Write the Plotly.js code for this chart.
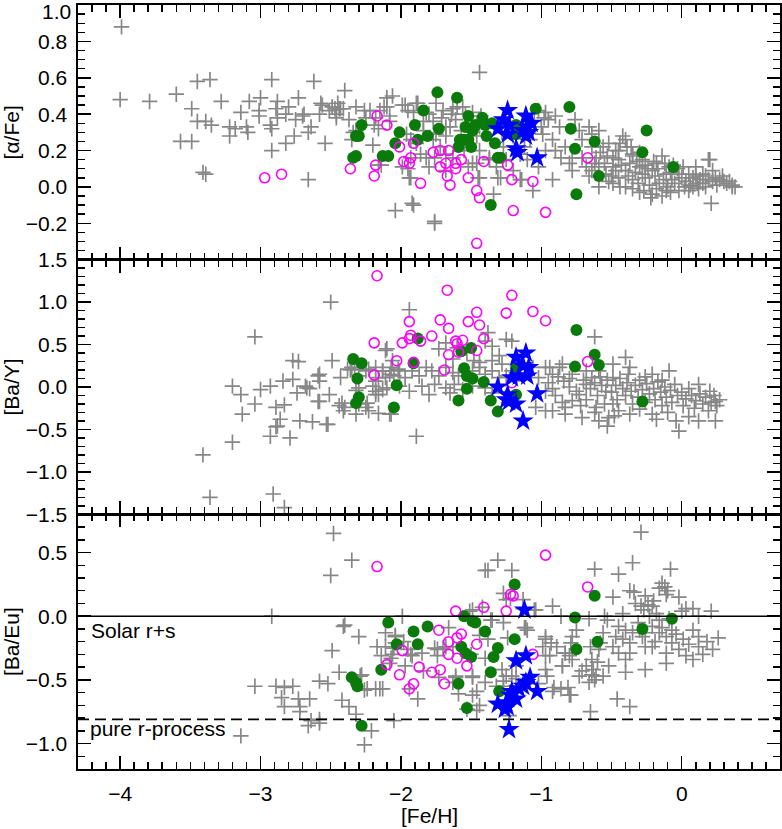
<!DOCTYPE html>
<html>
<head>
<meta charset="utf-8">
<script src="https://cdn.plot.ly/plotly-3.0.1.min.js"></script>
<style>html,body{margin:0;padding:0;background:#fff;}#chart{width:782px;height:829px;}</style>
</head>
<body>
<div id="chart"></div>
<script>
// ---------- Panel 1: [alpha/Fe] vs [Fe/H] ----------
const alphaGray = [
[-3.99,0.88],[-4.00,0.48],[-3.79,0.47],[-3.60,0.51],[-3.45,0.58],[-3.36,0.59],[-3.49,0.43],[-3.45,0.36],[-3.39,0.36],[-3.35,0.34],[-3.57,0.25],[-3.49,0.25],[-3.41,0.08],[-3.39,0.07],[-3.28,0.47],[-3.22,0.33],[-3.18,0.32],[-3.22,0.28],[-3.14,0.41],[-3.08,0.47],[-3.10,0.33],[-3.09,0.30],[-3.00,0.49],[-3.01,0.42],[-3.01,0.39],[-2.92,0.59],[-2.89,0.43],[-2.88,0.47],[-2.93,0.34],[-2.92,0.32],[-2.92,0.20],[-2.88,0.38],[-2.82,0.40],[-2.80,0.44],[-2.82,0.24],[-2.76,0.28],[-2.75,0.37],[-2.73,0.49],[-2.70,0.39],[-2.69,0.40],[-2.66,0.30],[-2.64,0.33],[-2.62,0.58],[-2.66,0.04],[-2.58,0.40],[-2.57,0.46],[-2.54,0.24],[-2.47,0.43],[-2.46,0.40],[-2.45,0.46],[-2.43,0.43],[-2.41,0.43],[-2.40,0.53],[-2.37,0.37],[-2.32,0.44],[-2.32,0.31],[-2.26,0.42],[-2.25,0.38],[-2.20,0.23],[-2.19,0.34],[-2.16,0.32],[-2.15,0.42],[-2.10,0.49],[-2.04,-0.13],[-2.16,0.12],
[-2.56,0.45],[-2.51,0.42],[-2.49,0.44],[-2.44,0.43],[-2.46,0.38],[-2.34,0.30],[-2.35,0.26],[-2.22,0.42],[-2.18,0.38],[-2.10,0.44],[-2.08,0.36],[-2.14,0.12],[-2.06,0.50],[-1.44,0.63],
[-1.99,0.45],[-1.95,0.42],[-1.91,0.41],[-1.88,0.46],[-1.84,0.36],[-1.96,0.29],[-1.93,0.26],[-1.89,0.24],[-1.95,0.10],[-1.93,0.05],[-1.92,-0.09],[-1.82,0.16],[-1.80,0.40],[-1.77,0.36],[-1.76,-0.20],[-1.75,0.46],[-1.70,0.42],[-1.71,0.38],[-1.68,0.33],[-1.64,0.40],[-1.63,0.43],[-1.61,0.37],[-1.77,0.26],[-1.72,0.22],[-1.68,0.28],[-1.56,0.44],[-1.54,0.40],[-1.49,0.41],[-1.45,0.34],[-1.46,0.28],[-1.43,0.39],[-1.63,0.16],[-1.49,0.13],[-1.45,0.05],[-1.34,-0.04],[-1.31,0.05],[-1.37,0.16],[-1.32,0.11],[-1.27,0.22],[-1.25,0.15],[-1.20,0.09],[-1.15,0.18],[-1.10,0.15],[-1.14,0.04],
[-2.12,0.44],[-2.08,0.39],[-1.97,0.45],[-1.89,0.46],[-1.82,0.41],[-1.60,0.44],[-1.84,0.31],[-1.75,0.29],[-1.65,0.33],[-1.57,0.31],[-1.44,0.33],[-1.93,0.16],[-1.86,0.18],[-1.76,0.16],[-1.68,0.18],[-1.55,0.20],[-1.44,0.20],[-1.46,0.13],[-1.37,0.15],[-1.99,0.11],[-1.94,0.05],[-1.80,0.11],[-1.68,0.09],[-1.52,0.11],[-1.44,0.05],[-1.91,-0.10],[-1.76,-0.19],[-1.29,0.05],[-1.15,0.04],[-1.06,-0.02],
[-1.02,0.42],[-0.98,0.38],[-1.05,0.36],[-1.00,0.33],[-1.28,0.30],[-1.20,0.28],[-1.15,0.30],[-1.08,0.26],[-1.12,0.22],
[-0.97,0.41],[-0.95,0.37],[-0.90,0.39],[-0.87,0.33],[-0.99,0.29],[-0.92,0.26],[-0.97,0.20],[-0.90,0.20],[-0.83,0.22],[-0.86,0.16],[-0.78,0.16],[-1.02,0.11],[-0.92,0.04],[-0.80,0.13],[-0.78,0.09],
[-0.76,0.37],[-0.73,0.31],[-0.71,0.26],[-0.66,0.33],[-0.64,0.29],[-0.59,0.31],[-0.64,0.22],[-0.71,0.16],[-0.68,0.11],
[-0.61,0.16],[-0.56,0.22],[-0.52,0.24],[-0.49,0.16],[-0.45,0.20],[-0.40,0.26],[-0.42,0.28],[-0.39,0.22],[-0.35,0.18],
[-0.64,0.09],[-0.59,0.11],[-0.54,0.07],[-0.49,0.11],[-0.45,0.05],[-0.40,0.09],[-0.35,0.04],[-0.30,0.11],[-0.26,0.05],[-0.21,0.09],[-0.16,0.02],[-0.11,0.07],[-0.07,0.04],[-0.02,0.07],[0.03,0.03],[0.08,0.05],[0.13,0.04],[0.17,0.06],[0.22,0.03],[0.27,0.04],[0.32,0.02],[0.36,0.01],
[-0.49,0.02],[-0.40,0.00],[-0.30,-0.03],[-0.21,-0.04],[-0.11,-0.02],[-0.02,-0.02],[0.08,0.00],[0.17,0.00],
[-0.45,0.15],[-0.35,0.17],[-0.28,0.15],[-0.18,0.13],[-0.14,0.17],[-0.09,0.11],[0.01,0.11],[0.10,0.11],[0.19,0.15],[0.22,0.09],[0.29,0.06],
[-0.59,0.00],[0.21,-0.09],[-0.22,-0.06],[-0.14,-0.05],[0.20,0.15],[0.36,0.00],
[-0.55,0.13],[-0.50,0.06],[-0.47,0.09],[-0.43,0.12],[-0.38,0.06],[-0.33,0.08],[-0.31,0.02],[-0.28,0.07],[-0.24,0.10],[-0.23,0.01],[-0.19,0.06],[-0.17,0.10],[-0.13,0.04],[-0.10,0.00],[-0.08,0.08],[-0.05,0.02],[-0.03,0.10],[0.00,0.05],[0.02,0.00],[0.05,0.07],[0.06,0.01],[0.10,0.06],[0.11,0.02],[0.15,0.07],[0.15,0.02],[0.19,0.04],[0.24,0.05],[0.25,0.01],[0.30,0.03],[0.34,0.03],[0.38,0.00],[-0.37,0.13],[-0.32,0.14],[-0.26,0.12],[-0.20,0.14],[-0.12,0.13],[-0.06,0.12],[-0.58,0.19],[-0.53,0.17],[-0.47,0.20],[-0.44,0.24],[-0.36,0.22],[-0.30,0.19],[-0.62,0.13],[-0.66,0.06],[-0.52,0.03],[-0.44,0.00],[-0.35,-0.01],[-0.27,-0.02],[-0.18,-0.01],[-0.08,-0.03],[0.05,-0.02],[0.12,-0.01]
];
const alphaGreen = [[-2.28,0.34],[-2.32,0.28],[-2.30,0.28],[-2.34,0.16],[-2.32,0.17],[-2.13,0.17],[-2.09,0.17],[-2.04,0.24],[-2.01,0.30],[-1.90,0.34],[-1.88,0.26],[-1.84,0.42],[-1.81,0.28],[-1.74,0.52],[-1.73,0.32],[-1.60,0.49],[-1.58,0.26],[-1.59,0.22],[-1.55,0.26],[-1.52,0.26],[-1.50,0.22],[-1.54,0.33],[-1.52,0.39],[-1.49,0.31],[-1.47,0.34],[-1.42,0.38],[-1.40,0.34],[-1.35,0.35],[-1.39,0.28],[-1.33,0.24],[-1.31,0.16],[-1.29,0.16],[-1.36,-0.10],[-1.18,0.34],[-1.18,0.29],[-1.04,0.43],[-0.80,0.44],[-0.79,0.32],[-0.76,0.21],[-0.75,-0.04],[-0.62,0.25],[-0.59,0.06],[-0.25,0.31],[-0.28,0.19],[-0.06,0.11]];
const alphaMagenta = [[-2.97,0.05],[-2.85,0.07],[-2.36,0.10],[-2.19,0.06],[-2.18,0.12],[-2.17,0.39],[-2.10,0.34],[-2.01,0.22],[-1.91,0.24],[-1.98,0.14],[-1.94,0.13],[-1.93,0.16],[-1.86,0.02],[-1.77,0.19],[-1.72,0.20],[-1.66,0.20],[-1.72,0.11],[-1.68,0.13],[-1.67,0.06],[-1.65,0.01],[-1.61,0.13],[-1.61,0.10],[-1.57,0.15],[-1.52,0.05],[-1.46,-0.02],[-1.44,-0.06],[-1.41,0.14],[-1.24,0.12],[-1.21,0.04],[-1.20,-0.13],[-1.46,-0.31],[-1.06,0.03],[-0.97,-0.14],[-0.67,0.16]];
const alphaBlue = [[-1.24,0.42],[-1.31,0.32],[-1.27,0.37],[-1.23,0.34],[-1.24,0.29],[-1.18,0.21],[-1.17,0.19],[-1.11,0.39],[-1.10,0.33],[-1.09,0.30],[-1.13,0.31],[-1.07,0.35],[-1.11,0.28],[-1.03,0.16]];

// ---------- Panel 2: [Ba/Y] vs [Fe/H] ----------
const bayGray = [
[-2.50,1.00],[-3.04,0.59],[-3.41,-0.80],[-3.36,-1.30],[-2.91,-1.26],[-2.83,-1.42],[-3.20,-0.65],[-3.20,0.01],[-3.14,-0.09],[-3.13,-0.32],[-3.04,-0.20],[-3.00,-0.03],[-2.93,0.01],[-2.93,-0.58],[-2.89,-0.47],[-2.86,-0.38],[-2.89,-0.24],[-2.83,-0.21],[-2.84,0.07],[-2.77,0.09],[-2.79,-0.60],[-2.73,0.30],[-2.74,-0.07],[-2.72,-0.40],[-2.67,-0.01],[-2.65,-0.02],[-2.63,-0.41],[-2.58,0.15],[-2.58,0.07],[-2.58,-0.17],[-2.51,-0.09],[-2.52,-0.44],[-2.49,0.31],[-2.43,0.11],[-2.44,-0.22],[-2.40,-0.24],[-2.42,-0.19],[-2.38,0.21],[-2.36,0.20],[-2.33,0.21],[-2.32,-0.32],[-2.32,-0.04],[-2.30,-0.20],[-2.25,-0.24],[-2.24,-0.19],[-2.23,0.21],[-2.18,0.07],[-2.18,-0.05],[-2.16,-0.09],[-2.13,0.19],[-2.11,0.11],[-2.10,-0.01],[-2.07,0.23],[-2.10,0.45],[-2.16,-0.31],[-2.05,0.13],[-2.02,0.21],
[-1.94,0.91],[-2.11,0.43],[-2.06,0.31],[-1.73,0.45],[-1.68,0.52],[-1.60,0.46],[-1.63,0.33],[-1.53,0.41],[-1.38,0.64],[-1.40,0.54],[-1.35,0.48],[-1.25,0.56],[-1.21,0.54],[-1.30,0.37],[-1.28,0.27],[-1.35,0.31],[-1.44,0.29],[-1.48,0.31],
[-2.35,0.23],[-2.30,0.13],[-2.25,0.19],[-2.18,0.23],[-2.13,0.19],[-2.16,0.11],[-2.08,0.15],[-2.01,0.19],[-1.97,0.11],[-1.92,0.19],[-1.87,0.13],[-1.82,0.23],[-1.78,0.19],[-1.73,0.13],[-1.68,0.23],[-1.63,0.17],[-1.59,0.13],[-1.49,0.19],[-1.44,0.23],[-1.40,0.15],[-1.35,0.19],[-1.30,0.11],[-1.25,0.13],[-1.21,0.19],[-1.16,0.15],
[-2.30,-0.01],[-2.20,0.01],[-2.18,-0.09],[-2.13,-0.03],[-2.01,0.01],[-1.94,-0.05],[-1.85,0.01],[-1.80,-0.09],[-1.76,0.03],[-1.68,-0.01],[-1.62,0.03],[-1.56,-0.03],[-1.49,0.01],[-1.40,-0.01],[-1.35,-0.07],[-1.65,-0.07],
[-2.41,-0.28],[-2.23,-0.28],[-2.08,-0.32],[-2.59,-0.17],[-2.53,-0.44],[-2.88,-0.46],[-2.77,0.31],[-2.59,0.13],[-2.68,0.01],[-1.89,-0.58],[-2.07,-0.32],
[-1.06,0.23],[-1.02,0.11],[-0.97,0.23],[-0.92,0.15],[-0.87,0.23],[-0.84,0.07],[-0.97,-0.05],[-1.04,-0.24],[-0.92,-0.28],[-0.83,-0.24],[-0.78,-0.16],[-0.73,-0.09],[-0.68,0.03],[-0.64,0.11],[-0.59,0.19],[-0.54,-0.05],[-0.49,0.11],[-0.61,-0.24],[-0.52,-0.36],[-0.49,-0.20],
[-0.62,0.59],[-0.40,0.35],
[-0.94,0.23],[-0.85,0.27],[-0.68,0.19],[-0.49,0.27],[-0.37,0.23],[-0.21,0.15],[-0.09,0.19],[0.12,0.03],[0.20,-0.05],[0.24,-0.17],
[-0.97,-0.28],[-0.83,-0.32],[-0.71,-0.36],[-0.59,-0.40],[-0.53,-0.46],[-0.37,-0.32],[-0.21,-0.32],[-0.04,-0.40],[-0.02,-0.52],[0.12,-0.40],[0.24,-0.40],
[-0.95,0.05],[-0.90,-0.10],[-0.88,0.12],[-0.80,0.00],[-0.78,0.15],[-0.75,-0.05],[-0.70,0.08],[-0.68,-0.15],[-0.65,-0.02],[-0.62,0.05],[-0.60,-0.10],[-0.57,0.02],[-0.55,-0.20],[-0.53,0.08],[-0.50,-0.06],[-0.47,0.02],[-0.46,-0.15],[-0.44,0.10],[-0.42,-0.02],[-0.40,-0.10],[-0.39,0.05],[-0.36,-0.05],[-0.35,-0.20],[-0.33,0.02],[-0.31,-0.12],[-0.30,0.08],[-0.28,-0.03],[-0.26,-0.18],[-0.25,0.04],[-0.23,-0.08],[-0.20,-0.02],[-0.19,-0.15],[-0.17,0.06],[-0.15,-0.06],[-0.14,-0.22],[-0.12,0.00],[-0.11,-0.12],[-0.08,-0.04],[-0.07,-0.18],[-0.05,0.03],[-0.03,-0.10],[0.00,-0.06],[0.01,-0.22],[0.03,-0.14],[0.05,-0.02],[0.07,-0.10],[0.09,-0.25],[0.10,-0.16],[0.13,-0.08],[0.15,-0.20],[0.17,-0.12],[0.19,-0.28],[0.21,-0.18],[0.23,-0.10],[0.25,-0.22],[0.27,-0.15],[-0.62,-0.30],[-0.45,-0.28],[-0.30,-0.26],[-0.10,-0.30],[0.05,-0.35],[-0.72,-0.22],[-0.85,-0.18],[-0.92,-0.02],[-0.38,0.15],[-0.26,0.12],[-0.14,0.08],[-0.58,0.12],[-0.80,0.10],[-0.48,-0.34],[-0.18,-0.38]
];
const bayGreen = [[-2.34,0.33],[-2.28,0.28],[-2.31,0.10],[-2.30,-0.12],[-2.32,-0.19],[-2.05,-0.24],[-2.03,0.02],[-1.91,0.28],[-1.88,0.57],[-1.57,0.42],[-1.50,0.46],[-1.55,0.22],[-1.53,0.13],[-1.49,0.10],[-1.53,-0.02],[-1.59,-0.16],[-1.41,0.06],[-1.36,-0.16],[-1.31,-0.29],[-1.18,0.22],[-1.18,-0.09],[-0.75,0.67],[-0.76,0.24],[-0.62,0.38],[-0.59,0.26],[-0.28,-0.17]];
const bayMagenta = [[-2.17,1.31],[-2.19,0.52],[-2.19,0.14],[-2.03,0.31],[-1.99,0.52],[-1.94,0.57],[-1.93,0.61],[-1.86,0.54],[-1.94,0.77],[-1.91,0.29],[-1.78,0.60],[-1.72,0.79],[-1.66,0.69],[-1.67,1.14],[-1.61,0.54],[-1.60,0.51],[-1.56,0.55],[-1.66,0.38],[-1.59,0.41],[-1.69,0.20],[-1.52,0.77],[-1.46,0.88],[-1.44,0.73],[-1.41,0.57],[-1.46,0.43],[-1.21,1.08],[-1.25,0.87],[-1.21,0.05],[-1.06,0.89],[-0.97,0.78],[-0.67,0.30]];
const bayBlue = [[-1.18,0.35],[-1.11,0.40],[-1.13,0.25],[-1.09,0.23],[-1.16,0.13],[-1.10,0.13],[-1.21,0.11],[-1.31,0.00],[-1.24,-0.09],[-1.23,-0.17],[-1.18,-0.20],[-1.25,-0.15],[-1.03,-0.08],[-1.13,-0.40]];

// ---------- Panel 3: [Ba/Eu] vs [Fe/H] ----------
const baeuGray = [
[-2.48,0.65],[-2.35,0.44],[-2.50,0.32],[-2.92,0.00],[-3.04,-0.55],[-3.14,-0.94],[-2.89,-0.55],[-2.83,-0.56],[-2.77,-0.55],[-2.85,-0.64],[-2.83,-0.71],[-2.73,-0.65],[-2.72,-0.71],[-2.72,-0.75],[-2.65,-0.65],[-2.58,-0.51],[-2.52,-0.53],[-2.66,-0.86],[-2.64,-0.82],[-2.58,-0.84],[-2.58,-0.81],[-2.49,-0.27],[-2.44,-0.44],[-2.42,-0.66],[-2.37,-0.71],[-2.41,-0.08],[-2.40,-0.07],[-2.30,-0.16],[-2.32,-0.77],[-2.28,-0.46],[-2.26,-0.58],[-2.26,-1.01],[-2.21,-0.90],[-2.18,-0.57],[-2.15,-0.57],[-2.17,-0.24],[-2.14,-0.31],[-2.11,-0.13],[-2.05,-0.82],[-2.08,-0.37],
[-2.29,-0.47],[-2.24,-0.57],[-2.13,-0.57],[-2.07,-0.33],[-2.06,-0.30],[-2.04,-0.16],[-1.99,0.00],[-1.98,-0.20],[-1.93,-0.30],[-1.97,-0.39],[-1.94,-0.57],[-1.88,-0.65],[-1.84,-0.43],[-1.76,-0.25],[-1.74,-0.26],[-1.70,-0.25],[-1.66,-0.09],[-1.63,-0.24],[-1.61,-0.47],[-1.59,-0.61],[-1.51,0.04],[-1.50,-0.30],[-1.49,-0.47],[-1.49,-0.62],[-1.46,-0.74],[-1.44,-0.15],[-1.38,-0.18],[-1.40,-0.33],[-1.36,-0.03],[-1.28,-0.42],[-1.27,-0.55],[-1.25,-0.47],[-1.27,-0.05],[-1.25,0.13],[-1.24,-0.17],[-1.18,-0.39],[-1.18,-0.49],[-1.13,0.06],[-1.12,-0.09],[-1.10,-0.11],[-1.38,0.36],[-1.21,0.36],
[-2.04,-0.15],[-2.04,-0.21],[-1.40,0.36],[-1.31,0.44],[-1.49,0.05],[-1.42,0.07],[-1.35,-0.03],[-1.27,0.18],[-1.22,0.14],[-1.13,0.13],[-1.04,0.05],[-2.11,-0.24],[-2.05,-0.25],[-1.95,-0.26],[-1.92,-0.31],[-1.85,-0.29],[-1.74,-0.31],[-1.68,-0.24],[-1.73,-0.48],[-1.63,-0.52],[-1.61,-0.48],[-1.49,-0.48],[-1.46,-0.59],[-1.40,-0.52],[-1.32,-0.55],[-1.27,-0.51],[-1.21,-0.47],[-1.02,-0.53],[-0.92,-0.59],[-0.86,-0.57],[-0.80,-0.62],[-1.23,-0.78],[-1.44,-0.70],[-1.53,-0.73],[-0.85,-0.39],[-0.83,-0.29],[-0.80,-0.31],[-0.97,-0.31],[-0.97,-0.16],[-0.93,-0.21],[-0.89,-0.24],
[-0.29,0.66],[-0.35,0.42],[-0.62,0.37],[-0.45,0.33],[-0.08,0.37],[-0.14,0.26],[-0.12,0.23],[-0.10,0.20],[-0.16,0.22],[-0.11,0.17],[-0.02,0.15],[-0.37,0.20],[-0.34,0.19],[-0.49,0.15],[-0.33,0.10],[-0.29,0.08],[-0.27,0.05],[-0.24,0.09],[-0.21,0.08],[-0.18,0.02],[-0.23,0.00],[-0.16,-0.03],[0.03,0.06],[0.08,0.06],[0.21,0.04],[0.12,0.00],[-0.92,0.08],[-1.05,0.05],[-0.86,0.00],[-1.11,-0.09],[-0.66,-0.02],[-0.55,0.00],[-0.53,-0.03],
[-0.45,-0.08],[-0.40,-0.11],[-0.35,-0.13],[-0.47,-0.16],[-0.42,-0.18],[-0.37,-0.21],[-0.30,-0.11],[-0.26,-0.13],[-0.21,-0.08],[-0.16,-0.13],[-0.11,-0.16],[-0.07,-0.11],[-0.26,-0.24],[-0.21,-0.24],[-0.11,-0.29],[-0.07,-0.21],[0.01,-0.18],[0.08,-0.11],[0.12,-0.16],[-0.02,-0.26],[0.03,-0.31],[0.12,-0.24],[0.22,-0.26],[0.26,-0.17],[0.08,-0.34],[-0.11,-0.37],[-0.26,-0.42],[-0.37,-0.29],[-0.45,-0.29],[-0.49,-0.24],[-0.56,-0.13],[-0.59,-0.26],[-0.64,-0.34],[-0.68,-0.39],[-0.61,-0.47],[-0.66,-0.52],[-0.71,-0.43],[-0.78,-0.34],[-0.83,-0.29],[-0.85,-0.39],[-0.97,-0.18],[-0.94,-0.31],[-0.99,-0.24],[-0.78,-0.16],[-0.75,-0.11],[-0.58,-0.21],[-0.65,-0.24],[-0.81,-0.56],[-0.79,-0.62],[-0.91,-0.56],[-0.97,-0.42],[-0.96,-0.47],[-0.46,-0.65],[-0.37,-0.71],[-0.65,-0.75],[-0.79,-0.21],[-0.52,-0.39],[-0.40,-0.44],[-0.40,-0.34],[-0.56,-0.47],[-0.73,-0.47],
[-0.63,-0.42],[-0.62,-0.50],[-0.60,-0.36],[-0.64,-0.46],[-0.31,-0.05],[-0.28,-0.16],[-0.19,-0.20],[-0.14,-0.09],[-0.09,-0.02],[-0.04,-0.14],[0.05,-0.22],[0.15,-0.30],[0.18,-0.20],[-0.42,0.02],[-0.20,0.12],[-0.26,0.16],[0.00,0.04]
];
const baeuGreen = [[-2.35,-0.48],[-2.32,-0.52],[-2.31,-0.55],[-2.28,-0.86],[-2.14,-0.42],[-2.09,-0.05],[-2.03,-0.22],[-1.91,-0.12],[-1.88,-0.22],[-1.81,-0.08],[-1.59,-0.53],[-1.57,-0.24],[-1.54,-0.29],[-1.50,-0.32],[-1.55,0.00],[-1.49,-0.04],[-1.47,-0.05],[-1.53,-0.72],[-1.40,-0.12],[-1.36,-0.44],[-1.34,-0.32],[-1.31,-0.25],[-1.30,-0.59],[-1.19,-0.18],[-1.19,0.25],[-0.76,-0.01],[-0.75,-0.26],[-0.62,0.16],[-0.60,-0.20],[-0.28,-0.10],[-0.07,-0.02]];
const baeuMagenta = [[-2.17,0.39],[-2.10,-0.38],[-2.01,-0.46],[-1.99,-0.27],[-1.94,-0.57],[-1.91,-0.53],[-1.87,-0.40],[-1.78,-0.44],[-1.72,-0.42],[-1.73,-0.11],[-1.69,-0.53],[-1.66,-0.20],[-1.60,-0.17],[-1.57,-0.14],[-1.66,-0.30],[-1.60,-0.33],[-1.53,-0.39],[-1.61,0.04],[-1.46,-0.22],[-1.41,0.07],[-1.25,0.04],[-1.22,0.17],[-1.20,0.16],[-0.97,0.48],[-0.67,0.23],[-1.06,-0.30]];
const baeuBlue = [[-1.12,0.05],[-1.18,-0.35],[-1.11,-0.31],[-1.08,-0.48],[-1.03,-0.59],[-1.11,-0.52],[-1.16,-0.57],[-1.21,-0.59],[-1.22,-0.62],[-1.18,-0.65],[-1.25,-0.68],[-1.31,-0.69],[-1.24,-0.71],[-1.26,-0.73],[-1.13,-0.55],[-1.23,-0.89]];

const solarLevel = 0.0;
const pureRLevel = -0.81;

const xTickVals = [-4, -3, -2, -1, 0];
const xTickText = ['\u22124', '\u22123', '\u22122', '\u22121', '0'];
const y1TickVals = [-0.2, 0.0, 0.2, 0.4, 0.6, 0.8, 1.0];
const y1TickText = ['\u22120.2', '0.0', '0.2', '0.4', '0.6', '0.8', ''];
const y1TopLabel = '1.0';
const y2TickVals = [-1.5, -1.0, -0.5, 0.0, 0.5, 1.0, 1.5];
const y2TickText = ['\u22121.5', '\u22121.0', '\u22120.5', '0.0', '0.5', '1.0', '1.5'];
const y3TickVals = [-1.0, -0.5, 0.0, 0.5];
const y3TickText = ['\u22121.0', '\u22120.5', '0.0', '0.5'];

const GRAY = '#878787', GREEN = '#0a7a0a', MAGENTA = '#ff00ff', BLUE = '#0000ff';
const FONT = 'Liberation Sans, Arial, Helvetica, sans-serif';
const FS = 21;

function grayTrace(pts, xa, ya) {
  return {x: pts.map(p => p[0]), y: pts.map(p => p[1]), xaxis: xa, yaxis: ya, type: 'scatter', mode: 'markers',
    marker: {symbol: 'cross-thin-open', size: 11, color: GRAY, line: {color: GRAY, width: 1.7}}, hoverinfo: 'skip'};
}
function greenTrace(pts, xa, ya) {
  return {x: pts.map(p => p[0]), y: pts.map(p => p[1]), xaxis: xa, yaxis: ya, type: 'scatter', mode: 'markers',
    marker: {symbol: 'circle', size: 12, color: GREEN, line: {width: 0}}};
}
function magentaTrace(pts, xa, ya) {
  return {x: pts.map(p => p[0]), y: pts.map(p => p[1]), xaxis: xa, yaxis: ya, type: 'scatter', mode: 'markers',
    marker: {symbol: 'circle-open', size: 10, color: MAGENTA, line: {color: MAGENTA, width: 1.6}}};
}
function blueTrace(pts, xa, ya) {
  return {x: pts.map(p => p[0]), y: pts.map(p => p[1]), xaxis: xa, yaxis: ya, type: 'scatter', mode: 'markers',
    marker: {symbol: 'star', size: 16, color: BLUE, line: {width: 0}}};
}

const data = [
  grayTrace(alphaGray, 'x', 'y'), greenTrace(alphaGreen, 'x', 'y'), magentaTrace(alphaMagenta, 'x', 'y'), blueTrace(alphaBlue, 'x', 'y'),
  grayTrace(bayGray, 'x2', 'y2'), greenTrace(bayGreen, 'x2', 'y2'), magentaTrace(bayMagenta, 'x2', 'y2'), blueTrace(bayBlue, 'x2', 'y2'),
  grayTrace(baeuGray, 'x3', 'y3'), greenTrace(baeuGreen, 'x3', 'y3'), magentaTrace(baeuMagenta, 'x3', 'y3'), blueTrace(baeuBlue, 'x3', 'y3')
];

const tickFont = {family: FONT, size: FS, color: '#000'};
function xAxis(anchor, labels) {
  return {
    anchor: anchor, range: [-4.3, 0.7], showgrid: false, zeroline: false,
    showline: true, linecolor: '#000', linewidth: 1.6, mirror: 'allticks',
    ticks: 'inside', ticklen: 13, tickwidth: 1.5, tickcolor: '#000',
    tickmode: 'array', tickvals: xTickVals, ticktext: xTickText, showticklabels: labels,
    tickfont: tickFont, ticklabelstandoff: 5, ticklabeloverflow: 'allow',
    minor: {tickmode: 'linear', tick0: 0, dtick: 0.1, ticks: 'inside', ticklen: 7, tickwidth: 1.5, tickcolor: '#000', showgrid: false}
  };
}
function yAxis(anchor, domain, range, tv, tt, minorD, title) {
  return {
    anchor: anchor, domain: domain, range: range, showgrid: false, zeroline: false,
    showline: true, linecolor: '#000', linewidth: 1.6, mirror: 'allticks',
    ticks: 'inside', ticklen: 13, tickwidth: 1.5, tickcolor: '#000',
    tickmode: 'array', tickvals: tv, ticktext: tt, tickfont: tickFont, ticklabelstandoff: 5, ticklabeloverflow: 'allow',
    minor: {tickmode: 'linear', tick0: 0, dtick: minorD, ticks: 'inside', ticklen: 7, tickwidth: 1.5, tickcolor: '#000', showgrid: false},
    title: {text: title, font: {family: FONT, size: FS, color: '#000'}, standoff: 5}
  };
}

const layout = {
  width: 782, height: 829,
  margin: {l: 78, r: 2, t: 5, b: 60},
  paper_bgcolor: '#fff', plot_bgcolor: '#fff',
  showlegend: false,
  font: {family: FONT, size: FS, color: '#000'},
  xaxis: xAxis('y', false),
  xaxis2: xAxis('y2', false),
  xaxis3: xAxis('y3', true),
  yaxis: yAxis('x', [0.6667, 1], [-0.4, 1.0005], y1TickVals, y1TickText, 0.05, '[\u03b1/Fe]'),
  yaxis2: yAxis('x2', [0.3333, 0.6667], [-1.5, 1.5], y2TickVals, y2TickText, 0.1, '[Ba/Y]'),
  yaxis3: yAxis('x3', [0, 0.3333], [-1.2, 0.8], y3TickVals, y3TickText, 0.1, '[Ba/Eu]'),
  shapes: [
    {type: 'line', xref: 'x3 domain', yref: 'y3', x0: 0, x1: 1, y0: solarLevel, y1: solarLevel, line: {color: '#000', width: 1.6}},
    {type: 'line', xref: 'x3 domain', yref: 'y3', x0: 0, x1: 1, y0: pureRLevel, y1: pureRLevel, line: {color: '#000', width: 1.6, dash: '11px,6px'}}
  ],
  annotations: [
    {xref: 'x3', yref: 'y3', x: -4.22, y: -0.115, text: 'Solar r+s', showarrow: false, xanchor: 'left', yanchor: 'middle', font: {family: FONT, size: FS, color: '#000'}},
    {xref: 'x3', yref: 'y3', x: -4.23, y: -0.885, text: 'pure r-process', showarrow: false, xanchor: 'left', yanchor: 'middle', font: {family: FONT, size: FS, color: '#000'}},
    {xref: 'x domain', yref: 'y', x: 0, y: 1.0, xshift: -5, yshift: -6, text: y1TopLabel, showarrow: false, xanchor: 'right', yanchor: 'middle', font: {family: FONT, size: FS, color: '#000'}},
    {xref: 'paper', yref: 'paper', x: 0.5, y: -0.0605, text: '[Fe/H]', showarrow: false, xanchor: 'center', yanchor: 'middle', font: {family: FONT, size: FS, color: '#000'}}
  ]
};

Plotly.newPlot('chart', data, layout, {staticPlot: true, displayModeBar: false});
</script>
</body>
</html>
